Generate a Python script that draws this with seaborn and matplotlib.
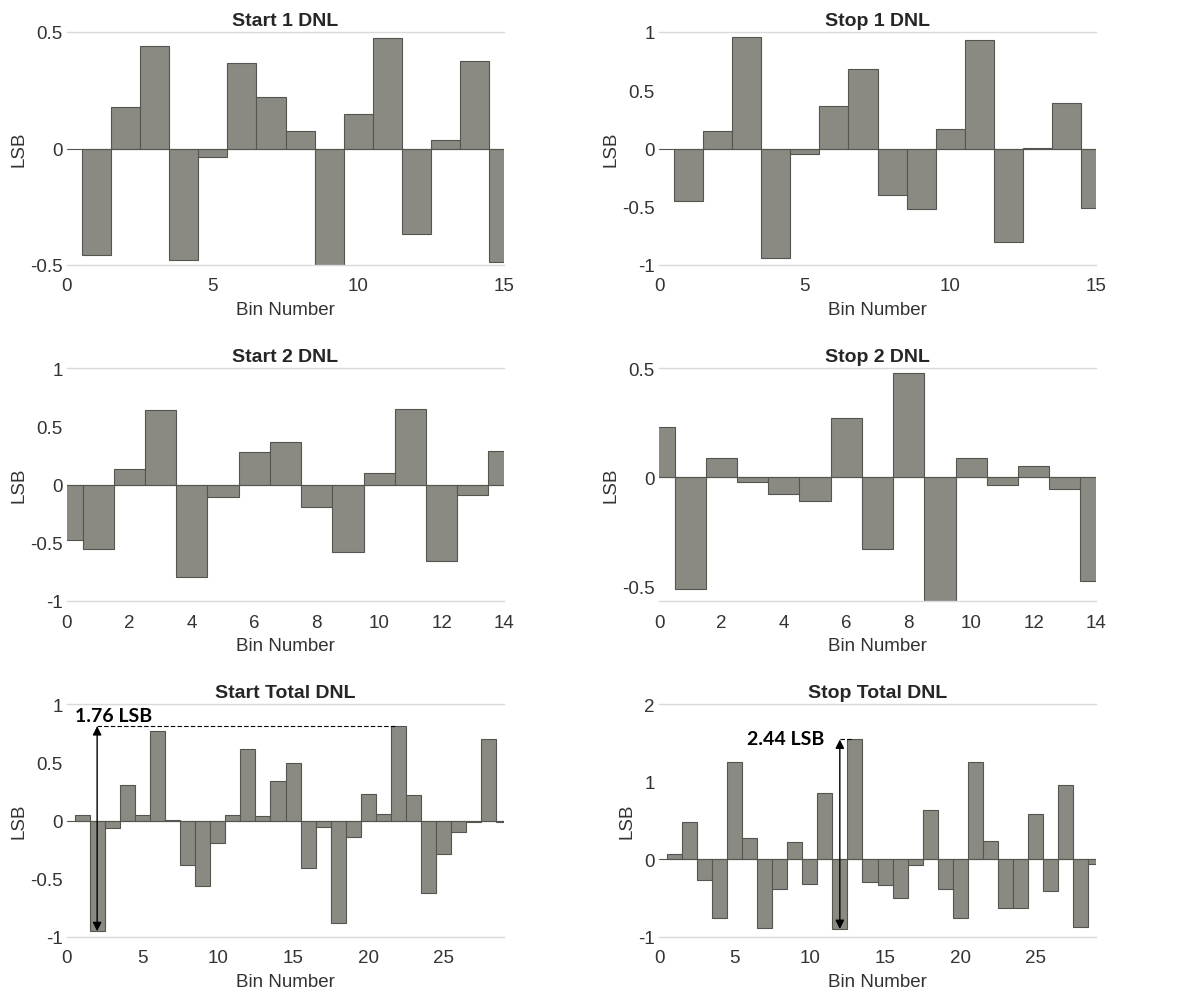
import numpy as np
import pandas as pd
import matplotlib
matplotlib.use("Agg")
import matplotlib.pyplot as plt
import seaborn as sns
from matplotlib.ticker import FuncFormatter

# bin numbers for each measurement
start1_bins = np.arange(1, 16)
stop1_bins = np.arange(1, 16)
start2_bins = np.arange(0, 15)
stop2_bins = np.arange(0, 15)
start_total_bins = np.arange(1, 30)
stop_total_bins = np.arange(1, 30)

# DNL values in LSB
start1_dnl = [-0.457, 0.176, 0.441, -0.479, -0.036, 0.366, 0.221, 0.076,
              -0.500, 0.147, 0.473, -0.369, 0.036, 0.377, -0.486]
stop1_dnl = [-0.449, 0.154, 0.960, -0.943, -0.043, 0.366, 0.686, -0.400,
             -0.523, 0.166, 0.934, -0.806, 0.006, 0.394, -0.509]
start2_dnl = [-0.473, -0.553, 0.129, 0.639, -0.791, -0.109, 0.278, 0.364,
              -0.195, -0.582, 0.100, 0.648, -0.659, -0.086, 0.289]
stop2_dnl = [0.229, -0.511, 0.087, -0.024, -0.076, -0.108, 0.271, -0.327,
             0.477, -0.567, 0.087, -0.038, 0.049, -0.052, -0.476]
start_total_dnl = [0.043, -0.950, -0.066, 0.302, 0.043, 0.767, 0.003, -0.382,
                   -0.560, -0.193, 0.043, 0.618, 0.037, 0.342, 0.494, -0.408,
                   -0.052, -0.876, -0.138, 0.230, 0.055, 0.810, 0.221, -0.624,
                   -0.287, -0.095, -0.009, 0.698, -0.014]
stop_total_dnl = [0.065, 0.483, -0.267, -0.754, 1.250, 0.280, -0.890, -0.379,
                  0.220, -0.315, 0.849, -0.897, 1.543, -0.293, -0.332, -0.496,
                  -0.078, 0.634, -0.379, -0.754, 1.250, 0.237, -0.629, -0.629,
                  0.582, -0.410, 0.961, -0.871, -0.065]

# bins where the peak-to-peak arrow is drawn
start_arrow_bin = 2
stop_arrow_bin = 12

BAR_FACE = '#8a8a83'
BAR_EDGE = '#55554f'
FRAME = '#dadada'
TICK_COL = '#333333'

sns.set_theme(style='white')
plt.rcParams['font.family'] = ['Liberation Sans', 'DejaVu Sans']
plt.rcParams['axes.unicode_minus'] = False


def dnl_panel(ax, bins, dnl, title, xlim, ylim, xticks, yticks):
    df = pd.DataFrame({'bin': bins, 'dnl': dnl})
    sns.barplot(data=df, x='bin', y='dnl', native_scale=True, width=1.0,
                color=BAR_FACE, saturation=1, edgecolor=BAR_EDGE,
                linewidth=0.8, errorbar=None, ax=ax)
    ax.axhline(0, color=BAR_EDGE, lw=0.8, zorder=3)
    ax.set_xlim(*xlim)
    ax.set_ylim(*ylim)
    ax.set_xticks(xticks)
    ax.set_yticks(yticks)
    fmt = FuncFormatter(lambda v, p: f"{v:g}")
    ax.xaxis.set_major_formatter(fmt)
    ax.yaxis.set_major_formatter(fmt)
    ax.tick_params(length=0, labelsize=13.5, colors=TICK_COL)
    ax.tick_params(axis='x', pad=9)
    ax.tick_params(axis='y', pad=3)
    ax.set_title(title, fontsize=14, fontweight='bold', pad=5)
    ax.set_xlabel('Bin Number', fontsize=13.5, color=TICK_COL, labelpad=5)
    ax.set_ylabel('LSB', fontsize=13.5, color=TICK_COL, labelpad=2)
    sns.despine(ax=ax, top=False, bottom=False, left=True, right=True)
    for side in ('top', 'bottom'):
        ax.spines[side].set_color(FRAME)
        ax.spines[side].set_linewidth(1.0)


def peak_to_peak(ax, bins, dnl, arrow_bin, text_xy, ha):
    bins = list(bins)
    lo = dnl[bins.index(arrow_bin)]
    top_idx = int(np.argmax(dnl))
    hi = dnl[top_idx]
    ax.plot([arrow_bin, bins[top_idx] - 0.2], [hi, hi], color='black',
            lw=0.8, ls=(0, (4, 2)), zorder=4)
    ax.annotate('', xy=(arrow_bin, hi), xytext=(arrow_bin, lo),
                arrowprops=dict(arrowstyle='<|-|>', color='black', lw=1.0,
                                mutation_scale=13, shrinkA=0, shrinkB=0),
                zorder=5)
    ax.text(text_xy[0], text_xy[1], f"{hi - lo:.2f} LSB", ha=ha, va='center',
            fontsize=14, fontweight='bold', family=['Lato', 'DejaVu Sans'],
            color='black', zorder=6)


fig = plt.figure(figsize=(11.79, 9.95), dpi=100)
W, H = 1179, 995
col_left = [67 / W, 659 / W]
row_top = [33, 369, 705]
ax_w, ax_h = 437 / W, 233 / H
axes = [[fig.add_axes([cl, 1 - (rt + 233) / H, ax_w, ax_h]) for cl in col_left]
        for rt in row_top]

dnl_panel(axes[0][0], start1_bins, start1_dnl, 'Start 1 DNL',
          (0, 15), (-0.5, 0.5), [0, 5, 10, 15], [-0.5, 0, 0.5])
dnl_panel(axes[0][1], stop1_bins, stop1_dnl, 'Stop 1 DNL',
          (0, 15), (-1, 1), [0, 5, 10, 15], [-1, -0.5, 0, 0.5, 1])
dnl_panel(axes[1][0], start2_bins, start2_dnl, 'Start 2 DNL',
          (0, 14), (-1, 1), list(range(0, 15, 2)), [-1, -0.5, 0, 0.5, 1])
dnl_panel(axes[1][1], stop2_bins, stop2_dnl, 'Stop 2 DNL',
          (0, 14), (-0.567, 0.5), list(range(0, 15, 2)), [-0.5, 0, 0.5])
dnl_panel(axes[2][0], start_total_bins, start_total_dnl, 'Start Total DNL',
          (0, 29), (-1, 1), [0, 5, 10, 15, 20, 25], [-1, -0.5, 0, 0.5, 1])
dnl_panel(axes[2][1], stop_total_bins, stop_total_dnl, 'Stop Total DNL',
          (0, 29), (-1, 2), [0, 5, 10, 15, 20, 25], [-1, 0, 1, 2])

peak_to_peak(axes[2][0], start_total_bins, start_total_dnl, start_arrow_bin,
             (0.5, 0.9), 'left')
peak_to_peak(axes[2][1], stop_total_bins, stop_total_dnl, stop_arrow_bin,
             (11.0, 1.56), 'right')

fig.savefig('out.png', dpi=100, facecolor='white')
